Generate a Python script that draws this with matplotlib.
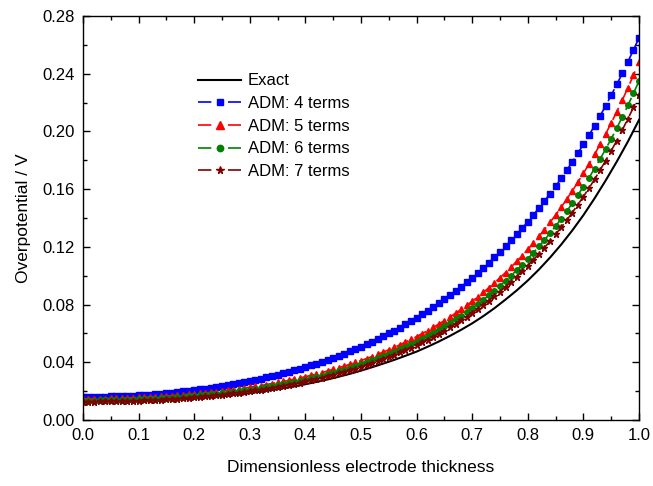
import numpy as np
import matplotlib
matplotlib.use("Agg")
import matplotlib.pyplot as plt
from matplotlib.lines import Line2D
from matplotlib.ticker import MultipleLocator

plt.rcParams['font.family'] = ['Liberation Sans', 'DejaVu Sans']

# dimensionless thickness, ADM series sampled every 0.01
x_adm = np.round(np.arange(0, 101) * 0.01, 2)
# exact solution sampled every 0.02
x_exact = np.round(np.arange(0, 51) * 0.02, 2)

exact = [0.0120, 0.0120, 0.0121, 0.0122, 0.0124, 0.0127, 0.0130, 0.0133, 0.0137, 0.0142,
         0.0148, 0.0154, 0.0161, 0.0169, 0.0177, 0.0186, 0.0197, 0.0208, 0.0220, 0.0233,
         0.0248, 0.0264, 0.0281, 0.0300, 0.0320, 0.0342, 0.0366, 0.0391, 0.0417, 0.0445,
         0.0474, 0.0508, 0.0544, 0.0583, 0.0625, 0.0670, 0.0720, 0.0775, 0.0835, 0.0898,
         0.0967, 0.1043, 0.1126, 0.1216, 0.1314, 0.1420, 0.1536, 0.1660, 0.1791, 0.1930,
         0.2080]

adm4 = [0.0160, 0.0160, 0.0160, 0.0161, 0.0162, 0.0163, 0.0164, 0.0166, 0.0167, 0.0169,
        0.0171, 0.0174, 0.0176, 0.0179, 0.0183, 0.0186, 0.0190, 0.0193, 0.0198, 0.0202,
        0.0207, 0.0212, 0.0217, 0.0223, 0.0228, 0.0234, 0.0241, 0.0248, 0.0255, 0.0262,
        0.0270, 0.0278, 0.0286, 0.0295, 0.0304, 0.0313, 0.0323, 0.0334, 0.0344, 0.0355,
        0.0367, 0.0379, 0.0391, 0.0404, 0.0417, 0.0431, 0.0445, 0.0460, 0.0476, 0.0492,
        0.0508, 0.0525, 0.0543, 0.0561, 0.0580, 0.0600, 0.0620, 0.0641, 0.0662, 0.0685,
        0.0708, 0.0732, 0.0757, 0.0782, 0.0809, 0.0836, 0.0864, 0.0894, 0.0924, 0.0955,
        0.0987, 0.1021, 0.1055, 0.1091, 0.1127, 0.1165, 0.1205, 0.1245, 0.1287, 0.1330,
        0.1375, 0.1421, 0.1469, 0.1518, 0.1569, 0.1621, 0.1675, 0.1731, 0.1789, 0.1849,
        0.1911, 0.1974, 0.2040, 0.2108, 0.2178, 0.2251, 0.2326, 0.2403, 0.2483, 0.2565,
        0.2650]

adm5 = [0.0148, 0.0148, 0.0148, 0.0149, 0.0149, 0.0150, 0.0151, 0.0152, 0.0153, 0.0154,
        0.0156, 0.0158, 0.0160, 0.0162, 0.0164, 0.0166, 0.0169, 0.0172, 0.0175, 0.0178,
        0.0181, 0.0185, 0.0188, 0.0192, 0.0197, 0.0201, 0.0206, 0.0211, 0.0216, 0.0221,
        0.0227, 0.0233, 0.0239, 0.0246, 0.0253, 0.0260, 0.0267, 0.0275, 0.0283, 0.0292,
        0.0300, 0.0310, 0.0319, 0.0329, 0.0340, 0.0351, 0.0362, 0.0374, 0.0386, 0.0399,
        0.0412, 0.0426, 0.0440, 0.0455, 0.0471, 0.0487, 0.0504, 0.0521, 0.0540, 0.0559,
        0.0578, 0.0599, 0.0620, 0.0642, 0.0665, 0.0689, 0.0714, 0.0740, 0.0766, 0.0794,
        0.0823, 0.0853, 0.0885, 0.0917, 0.0951, 0.0986, 0.1022, 0.1060, 0.1100, 0.1140,
        0.1183, 0.1227, 0.1273, 0.1320, 0.1370, 0.1421, 0.1475, 0.1530, 0.1588, 0.1648,
        0.1710, 0.1774, 0.1841, 0.1911, 0.1983, 0.2059, 0.2137, 0.2218, 0.2302, 0.2390,
        0.2481]

adm6 = [0.0135, 0.0135, 0.0135, 0.0136, 0.0136, 0.0137, 0.0138, 0.0139, 0.0140, 0.0141,
        0.0143, 0.0144, 0.0146, 0.0148, 0.0150, 0.0152, 0.0155, 0.0157, 0.0160, 0.0163,
        0.0166, 0.0170, 0.0173, 0.0177, 0.0181, 0.0185, 0.0190, 0.0195, 0.0199, 0.0205,
        0.0210, 0.0216, 0.0222, 0.0228, 0.0234, 0.0241, 0.0248, 0.0256, 0.0263, 0.0271,
        0.0280, 0.0288, 0.0298, 0.0307, 0.0317, 0.0327, 0.0338, 0.0349, 0.0361, 0.0373,
        0.0386, 0.0399, 0.0413, 0.0427, 0.0442, 0.0457, 0.0473, 0.0490, 0.0507, 0.0525,
        0.0544, 0.0563, 0.0583, 0.0604, 0.0626, 0.0649, 0.0672, 0.0697, 0.0722, 0.0749,
        0.0776, 0.0805, 0.0834, 0.0865, 0.0897, 0.0931, 0.0965, 0.1001, 0.1039, 0.1077,
        0.1118, 0.1160, 0.1203, 0.1248, 0.1295, 0.1344, 0.1395, 0.1447, 0.1502, 0.1559,
        0.1618, 0.1679, 0.1743, 0.1809, 0.1878, 0.1949, 0.2024, 0.2101, 0.2181, 0.2264,
        0.2350]

adm7 = [0.0128, 0.0128, 0.0128, 0.0129, 0.0129, 0.0130, 0.0131, 0.0132, 0.0133, 0.0134,
        0.0135, 0.0137, 0.0139, 0.0140, 0.0142, 0.0145, 0.0147, 0.0149, 0.0152, 0.0155,
        0.0158, 0.0161, 0.0165, 0.0168, 0.0172, 0.0176, 0.0181, 0.0185, 0.0190, 0.0195,
        0.0200, 0.0205, 0.0211, 0.0217, 0.0223, 0.0230, 0.0236, 0.0243, 0.0251, 0.0259,
        0.0267, 0.0275, 0.0284, 0.0293, 0.0302, 0.0312, 0.0323, 0.0333, 0.0344, 0.0356,
        0.0368, 0.0381, 0.0394, 0.0407, 0.0422, 0.0436, 0.0452, 0.0468, 0.0484, 0.0501,
        0.0519, 0.0538, 0.0557, 0.0577, 0.0598, 0.0620, 0.0643, 0.0666, 0.0691, 0.0716,
        0.0742, 0.0770, 0.0798, 0.0828, 0.0858, 0.0890, 0.0923, 0.0958, 0.0994, 0.1031,
        0.1069, 0.1110, 0.1151, 0.1195, 0.1240, 0.1286, 0.1335, 0.1385, 0.1438, 0.1492,
        0.1549, 0.1607, 0.1668, 0.1732, 0.1798, 0.1866, 0.1937, 0.2011, 0.2088, 0.2167,
        0.2250]

labels = ['Exact', 'ADM: 4 terms', 'ADM: 5 terms', 'ADM: 6 terms', 'ADM: 7 terms']
colors = ['black', '#0000ff', '#ff0000', '#008000', '#800000']
markers = [None, 's', '^', 'o', '*']
msizes = [0, 3.8, 4.6, 4.0, 4.8]

fig = plt.figure(figsize=(6.53, 4.86), dpi=100)
ax = fig.add_axes([0.127, 0.1358, 0.8516, 0.8312])

ax.plot(x_exact, exact, color=colors[0], lw=1.5)
for ys, c, m, ms in zip([adm4, adm5, adm6, adm7], colors[1:], markers[1:], msizes[1:]):
    ax.plot(x_adm, ys, color=c, lw=1.2, linestyle=(0, (8, 4)), marker=m, ms=ms)

# legend keys: one dash on each side of the symbol
handles = [Line2D([], [], color=colors[0], lw=1.5)]
for c, m, ms in zip(colors[1:], markers[1:], msizes[1:]):
    handles.append(Line2D([], [], color=c, lw=1.2, linestyle=(0, (8.0, 10.0)),
                          marker=m, ms=ms + 0.6))

ax.set_xlim(0, 1.0)
ax.set_ylim(0, 0.28)
ax.xaxis.set_major_locator(MultipleLocator(0.1))
ax.xaxis.set_minor_locator(MultipleLocator(0.05))
ax.yaxis.set_major_locator(MultipleLocator(0.04))
ax.yaxis.set_minor_locator(MultipleLocator(0.02))
ax.xaxis.set_major_formatter(plt.FormatStrFormatter('%.1f'))
ax.yaxis.set_major_formatter(plt.FormatStrFormatter('%.2f'))
ax.tick_params(which='both', direction='in', top=True, right=True, labelsize=12, width=1)
ax.tick_params(which='major', length=5, pad=6)
ax.tick_params(which='minor', length=3)
for s in ax.spines.values():
    s.set_linewidth(1.0)

ax.set_xlabel('Dimensionless electrode thickness', fontsize=12.5, labelpad=12)
ax.set_ylabel('Overpotential / V', fontsize=12.5, labelpad=8)

ax.legend(handles, labels, loc='upper left', bbox_to_anchor=(0.18, 0.895), frameon=False,
          fontsize=12, handlelength=2.6, numpoints=1, labelspacing=0.46, handletextpad=0.4)

fig.savefig('out.png', dpi=100)
